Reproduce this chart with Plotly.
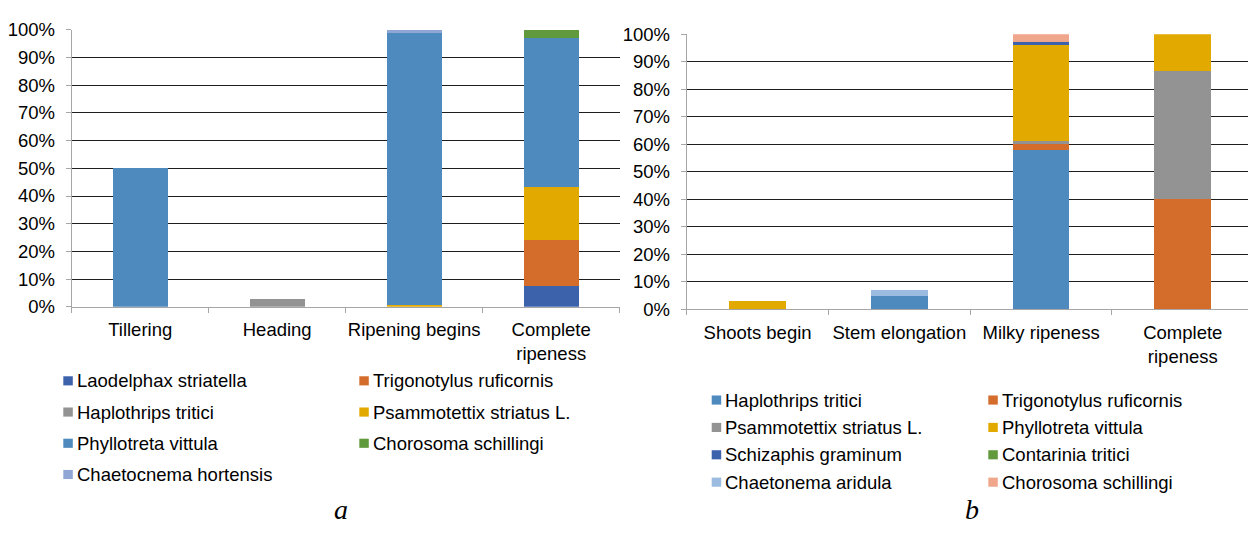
import plotly.graph_objects as go

W, H = 1248, 533

# ---- panel a: insect community structure by growth stage (%)
stages_a = ["Tillering", "Heading", "Ripening begins", "Complete ripeness"]
laodelphax_a = [0, 0, 0, 7.4]
trigonotylus_a = [0, 0, 0, 16.8]
haplothrips_a = [0, 3.0, 0, 0]
psammotettix_a = [0, 0, 0.5, 19.0]
phyllotreta_a = [50.0, 0, 98.5, 53.9]
chorosoma_a = [0, 0, 0, 2.9]
chaetocnema_a = [0, 0, 1.0, 0]

# ---- panel b
stages_b = ["Shoots begin", "Stem elongation", "Milky ripeness", "Complete ripeness"]
haplothrips_b = [0, 4.9, 57.9, 0]
trigonotylus_b = [0, 0, 2.4, 40.0]
psammotettix_b = [0, 0, 1.1, 46.7]
phyllotreta_b = [3.0, 0, 34.9, 13.3]
schizaphis_b = [0, 0, 1.0, 0]
contarinia_b = [0, 0, 0, 0]
chaetonema_b = [0, 2.0, 0, 0]
chorosoma_b = [0, 0, 2.7, 0]

BLUE = "#4F8ABF"
ORANGE = "#D46D2B"
GRAY = "#939393"
GOLD = "#E2AA00"
DARKBLUE = "#3D62AC"
GREEN = "#619A3D"
LILAC = "#90A7D6"
SKY = "#9BBBE0"
SALMON = "#F0A68B"

series_a = [
    ("Laodelphax striatella", laodelphax_a, DARKBLUE),
    ("Trigonotylus ruficornis", trigonotylus_a, ORANGE),
    ("Haplothrips tritici", haplothrips_a, GRAY),
    ("Psammotettix striatus L.", psammotettix_a, GOLD),
    ("Phyllotreta vittula", phyllotreta_a, BLUE),
    ("Chorosoma schillingi", chorosoma_a, GREEN),
    ("Chaetocnema hortensis", chaetocnema_a, LILAC),
]
series_b = [
    ("Haplothrips tritici", haplothrips_b, BLUE),
    ("Trigonotylus ruficornis", trigonotylus_b, ORANGE),
    ("Psammotettix striatus L.", psammotettix_b, GRAY),
    ("Phyllotreta vittula", phyllotreta_b, GOLD),
    ("Schizaphis graminum", schizaphis_b, DARKBLUE),
    ("Contarinia tritici", contarinia_b, GREEN),
    ("Chaetonema aridula", chaetonema_b, SKY),
    ("Chorosoma schillingi", chorosoma_b, SALMON),
]

FONT = "Liberation Sans, Arial, sans-serif"
FS = 18.5


def px_x(v):
    return v / W


def px_y(v):
    return 1 - v / H


def wrap(label):
    return label.replace(" ripeness", "<br>ripeness") if label.startswith("Complete") else label


fig = go.Figure()
for name, vals, col in series_a:
    fig.add_trace(go.Bar(x=stages_a, y=vals, name=name, marker=dict(color=col, line=dict(width=0)),
                         xaxis="x", yaxis="y", showlegend=False))
for name, vals, col in series_b:
    fig.add_trace(go.Bar(x=stages_b, y=vals, name=name, marker=dict(color=col, line=dict(width=0)),
                         xaxis="x2", yaxis="y2", showlegend=False))

ycommon = dict(range=[0, 100], dtick=10, ticksuffix="%", showgrid=True, gridcolor="#1e1e1e",
               gridwidth=1, zeroline=False, showline=True, linecolor="#A6A6A6", linewidth=1,
               ticks="outside", ticklen=5, tickcolor="#A6A6A6", ticklabelstandoff=7,
               tickfont=dict(family=FONT, size=FS, color="#000"))
xcommon = dict(type="category", showgrid=False, zeroline=False, showline=True, linecolor="#A6A6A6",
               linewidth=1, ticks="outside", ticklen=5, tickcolor="#A6A6A6", tickson="boundaries",
               tickangle=0, ticklabelstandoff=6, tickfont=dict(family=FONT, size=FS, color="#000"))

fig.update_layout(
    width=W, height=H, margin=dict(l=0, r=0, t=0, b=0),
    paper_bgcolor="white", plot_bgcolor="white",
    barmode="stack", bargap=0.6,
    xaxis=dict(domain=[px_x(71.7), px_x(619.7)], anchor="y", range=[-0.5, 3.5],
               tickvals=stages_a, ticktext=[wrap(s) for s in stages_a], **xcommon),
    yaxis=dict(domain=[px_y(308.0), px_y(19.5)], anchor="x", **ycommon),
    xaxis2=dict(domain=[px_x(686.7), 1.0], anchor="y2", range=[-0.5, 3.46],
                tickvals=stages_b, ticktext=[wrap(s) for s in stages_b], **xcommon),
    yaxis2=dict(domain=[px_y(310.7), px_y(24.3)], anchor="x2", **ycommon),
)

# legends drawn as two-column keys under each panel
shapes = []
annotations = []


def add_key(series, col_x, text_x, rows, sq=9.5):
    for i, (name, _, col) in enumerate(series):
        r, c = divmod(i, 2)
        cy = rows[r]
        x0 = col_x[c]
        shapes.append(dict(type="rect", xref="paper", yref="paper", x0=px_x(x0), x1=px_x(x0 + sq),
                           y0=px_y(cy + sq / 2), y1=px_y(cy - sq / 2), fillcolor=col, line=dict(width=0)))
        annotations.append(dict(text=name, xref="paper", yref="paper", x=px_x(text_x[c] - 2), y=px_y(cy),
                                xanchor="left", yanchor="middle", showarrow=False,
                                font=dict(family=FONT, size=FS, color="#000")))


add_key(series_a, [63.3, 359.3], [77.3, 372.7], [385, 417.5, 450, 482.5])
add_key(series_b, [711.7, 988.3], [725.3, 1002.3], [405, 433.5, 462, 490.5])

annotations.append(dict(text="<i>a</i>", xref="paper", yref="paper", x=px_x(341), y=px_y(519),
                        xanchor="center", yanchor="middle", showarrow=False,
                        font=dict(family="Liberation Serif, Times New Roman, serif", size=28, color="#000")))
annotations.append(dict(text="<i>b</i>", xref="paper", yref="paper", x=px_x(972), y=px_y(519),
                        xanchor="center", yanchor="middle", showarrow=False,
                        font=dict(family="Liberation Serif, Times New Roman, serif", size=28, color="#000")))

fig.update_layout(shapes=shapes, annotations=annotations)

fig.write_html("out.html")
